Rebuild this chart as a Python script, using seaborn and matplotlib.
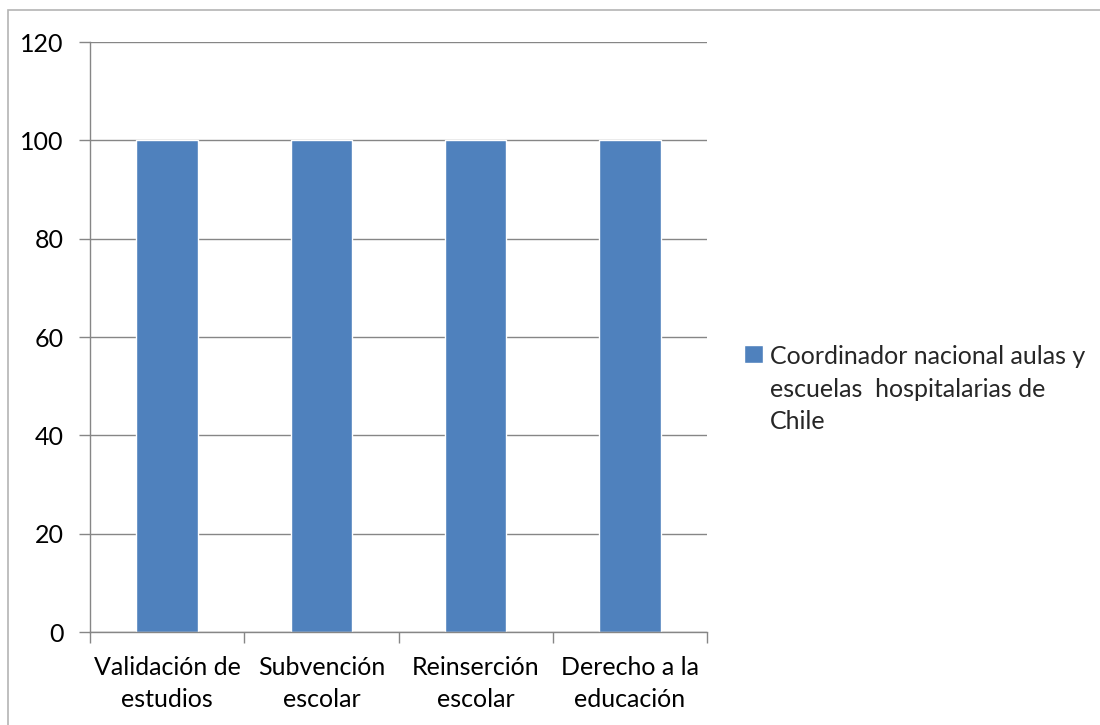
import matplotlib
matplotlib.use("Agg")
import matplotlib.pyplot as plt
import matplotlib.patches as mpatches
import pandas as pd
import seaborn as sns

# Datos del gráfico
categorias = ["Validación de\nestudios", "Subvención\nescolar", "Reinserción\nescolar", "Derecho a la\neducación"]
valores = [100, 100, 100, 100]
serie = "Coordinador nacional aulas y\nescuelas  hospitalarias de\nChile"

df = pd.DataFrame({"categoria": categorias, "valor": valores})

sns.set_theme(style="white")
plt.rcParams["font.family"] = ["Lato", "DejaVu Sans"]

fig = plt.figure(figsize=(11, 7.25), dpi=100)
ax = fig.add_axes([90 / 1100, 1 - 632 / 725, (707 - 90) / 1100, (632 - 42) / 725])

sns.barplot(data=df, x="categoria", y="valor", color="#4F81BD", width=0.4,
            saturation=1, ax=ax, label=serie)

gris = "#868686"
fs = 18
ax.set_ylim(0, 120)
ax.set_yticks(range(0, 121, 20))
ax.set_xlim(-0.5, 3.5)
ax.yaxis.grid(True, color=gris, linewidth=1)
ax.set_axisbelow(True)
for s in ["top", "right"]:
    ax.spines[s].set_visible(False)
for s in ["left", "bottom"]:
    ax.spines[s].set_color(gris)
    ax.spines[s].set_linewidth(1)

ax.set_xlabel("")
ax.set_ylabel("")
ax.tick_params(axis="y", length=8, width=1, color=gris, pad=11, labelsize=fs, labelcolor="black", left=True)
ax.tick_params(axis="x", which="major", length=0, pad=17, labelsize=fs, labelcolor="black")
ax.set_xticks([-0.5, 0.5, 1.5, 2.5, 3.5], minor=True)
ax.tick_params(axis="x", which="minor", length=8, width=1, color=gris, bottom=True)
for t in ax.get_xticklabels():
    t.set_linespacing(1.5)

leg = ax.legend(loc="upper left", bbox_to_anchor=(744 / 1100, 1 - 345 / 725),
                bbox_transform=fig.transFigure, frameon=False, fontsize=fs,
                handlelength=0.75, handleheight=0.75, handletextpad=0.3,
                borderpad=0, borderaxespad=0)
for t in leg.get_texts():
    t.set_linespacing(1.5)
# cuadrado alineado con la primera línea
for col in leg._legend_handle_box.get_children():
    for item in col.get_children():
        item.align = "top"

# Borde del gráfico
fig.patches.append(mpatches.Rectangle((8 / 1100, -0.05), 1.2, 1 - 10 / 725 + 0.05,
                                      transform=fig.transFigure, fill=False,
                                      edgecolor="#B4B4B4", linewidth=1.2))

fig.savefig("out.png", dpi=100)
